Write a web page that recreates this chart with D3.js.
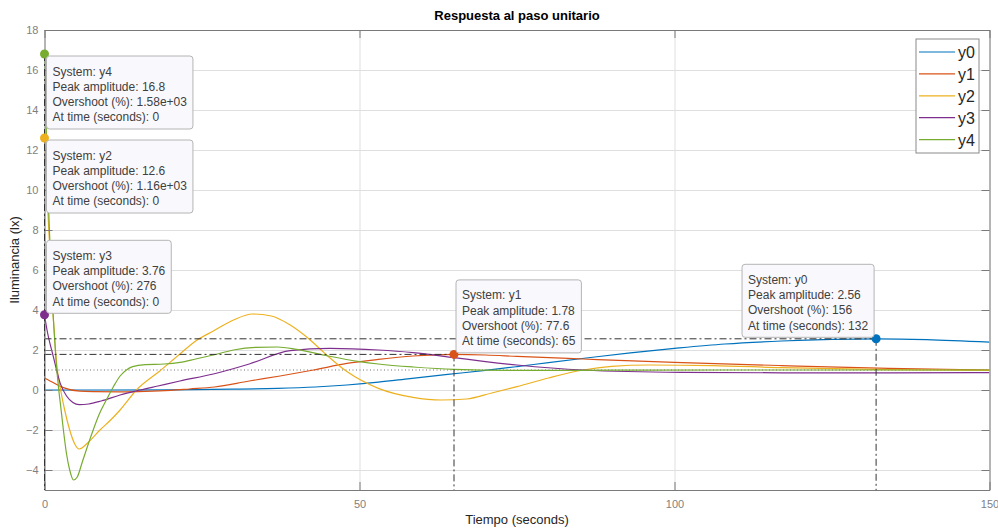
<!DOCTYPE html>
<html>
<head>
<meta charset="utf-8">
<script src="https://cdn.jsdelivr.net/npm/d3@7"></script>
<style>
  body { margin: 0; background: #fff; }
  svg { display: block; font-family: "Liberation Sans", Arial, Helvetica, sans-serif; }
</style>
</head>
<body>
<svg id="canvas" width="998" height="529"></svg>
<script>
// series: time (s) / illuminance (lx)
let seriesNames = ["y0", "y1", "y2", "y3", "y4"];
let colors = ["#0072BD", "#D95319", "#EDB120", "#7E2F8E", "#77AC30"];

let y0Time = [0, 10, 20, 30, 37, 43, 48, 53, 58, 64, 70, 75, 80, 86, 93, 100, 108, 117, 125, 132, 140, 150];
let y0Vals = [0, 0, 0.01, 0.04, 0.08, 0.15, 0.25, 0.39, 0.57, 0.78, 0.98, 1.17, 1.37, 1.6, 1.86, 2.08, 2.3, 2.45, 2.53, 2.56, 2.52, 2.39];

let y1Time = [0, 1.5, 3, 5.6, 8, 12, 16, 20, 23, 27, 32.5, 37.4, 42.7, 48, 53, 58.5, 65, 70, 75, 85.5, 100, 117, 134, 150];
let y1Vals = [0.6, 0.35, 0.12, -0.06, -0.08, -0.09, -0.07, -0.02, 0.05, 0.15, 0.45, 0.7, 1.0, 1.33, 1.53, 1.7, 1.78, 1.75, 1.68, 1.55, 1.38, 1.22, 1.08, 1.0];

let y2Time = [0, 0.3, 0.55, 0.8, 1.1, 1.5, 2, 2.56, 3.2, 4, 4.8, 5.5, 7, 8.8, 10.5, 12, 14.6, 18.3, 21.5, 24, 26.8, 30, 33, 36, 39, 42, 44.5, 48, 53, 58.5, 63, 67, 71, 75, 80, 85.5, 90, 96, 106, 117, 134, 150];
let y2Vals = [12.6, 10.6, 8.85, 7.3, 5.2, 3.1, 1.1, 0, -1.0, -2.0, -2.7, -2.95, -2.6, -2.0, -1.5, -1.0, 0, 0.95, 1.8, 2.45, 2.95, 3.5, 3.8, 3.7, 3.25, 2.55, 1.83, 0.92, 0.08, -0.37, -0.5, -0.45, -0.15, 0.17, 0.6, 1.0, 1.18, 1.25, 1.22, 1.12, 1.02, 0.98];

let y3Time = [0, 0.4, 1.4, 2.5, 3.5, 4.5, 5.5, 7, 9, 12, 15.2, 18, 21.5, 26.8, 32.5, 39, 45.3, 53, 58.5, 65, 70, 75, 85.5, 101, 117, 134, 150];
let y3Vals = [3.76, 3.0, 1.67, 0.33, -0.3, -0.62, -0.73, -0.7, -0.55, -0.25, 0, 0.2, 0.45, 0.8, 1.3, 1.97, 2.08, 2.0, 1.87, 1.62, 1.42, 1.25, 1.0, 0.88, 0.86, 0.86, 0.87];

let y4Time = [0, 0.3, 0.6, 1, 1.4, 1.8, 2.2, 2.6, 3, 3.5, 4, 4.6, 5.2, 6, 7.5, 8.7, 9.9, 11, 12, 13, 14, 16, 19, 21.5, 24, 26.8, 30, 33.5, 37, 40, 45, 50, 53, 58.5, 65, 75, 90, 110, 130, 150];
let y4Vals = [16.8, 12.8, 9.5, 6.2, 3.6, 1.6, 0.2, -0.9, -2.0, -3.2, -4.0, -4.5, -4.35, -3.6, -2.2, -1.2, -0.45, 0.2, 0.7, 1.0, 1.17, 1.27, 1.3, 1.38, 1.55, 1.75, 2.0, 2.13, 2.15, 2.03, 1.7, 1.42, 1.3, 1.15, 1.03, 0.98, 0.99, 1.0, 1.0, 1.0];

// peak data tips
let peakTimes = [132, 65, 0, 0, 0];
let peakAmps = [2.56, 1.78, 12.6, 3.76, 16.8];
let overshoots = ["156", "77.6", "1.16e+03", "276", "1.58e+03"];
let finalValue = 1;

let xTicks = [0, 50, 100, 150];
let yTicks = [-4, -2, 0, 2, 4, 6, 8, 10, 12, 14, 16, 18];

let allTimes = [y0Time, y1Time, y2Time, y3Time, y4Time];
let allVals = [y0Vals, y1Vals, y2Vals, y3Vals, y4Vals];

// which corner of the point each tip box sits at
let tipSide = [
  { dx: -1, dy: -1 },
  { dx: 1, dy: -1 },
  { dx: 1, dy: 1 },
  { dx: 1, dy: -1 },
  { dx: 1, dy: 1 }
];

let canvas = d3.select("#canvas");
let pLeft = 44.5, pRight = 989.5, pTop = 30, pBottom = 490;

let x = d3.scaleLinear().domain([0, 150]).range([pLeft, pRight]);
let y = d3.scaleLinear().domain([-5, 18]).range([pBottom, pTop]);

let axisColor = "#7a7a7a";
let gridColor = "#dfdfdf";

// grid
canvas.append("g")
  .attr("transform", `translate(0,${pBottom})`)
  .call(d3.axisBottom(x).tickValues(xTicks).tickSize(-(pBottom - pTop)).tickFormat(""))
  .call(g => g.select(".domain").remove())
  .call(g => g.selectAll("line").attr("stroke", gridColor));
canvas.append("g")
  .attr("transform", `translate(${pLeft},0)`)
  .call(d3.axisLeft(y).tickValues(yTicks).tickSize(-(pRight - pLeft)).tickFormat(""))
  .call(g => g.select(".domain").remove())
  .call(g => g.selectAll("line").attr("stroke", gridColor));

canvas.append("defs").append("clipPath").attr("id", "plotclip")
  .append("rect").attr("x", pLeft).attr("y", pTop)
  .attr("width", pRight - pLeft).attr("height", pBottom - pTop);

let plot = canvas.append("g").attr("clip-path", "url(#plotclip)");

// steady state
plot.append("line")
  .attr("x1", pLeft).attr("x2", pRight)
  .attr("y1", y(finalValue)).attr("y2", y(finalValue))
  .attr("stroke", "#707070").attr("stroke-width", 1)
  .attr("stroke-dasharray", "1,2.5");

let line = d3.line()
  .x(d => x(d[0]))
  .y(d => y(d[1]))
  .curve(d3.curveMonotoneX);

seriesNames.forEach((name, i) => {
  let pts = allTimes[i].map((t, k) => [t, allVals[i][k]]);
  plot.append("path")
    .attr("d", line(pts))
    .attr("fill", "none")
    .attr("stroke", colors[i])
    .attr("stroke-width", 1.2);
});

// peak reference lines
let dashDot = "7,3,2,3";
seriesNames.forEach((name, i) => {
  let px = x(peakTimes[i]), py = y(peakAmps[i]);
  plot.append("line")
    .attr("x1", pLeft).attr("x2", px)
    .attr("y1", py).attr("y2", py)
    .attr("stroke", "#333").attr("stroke-width", 1)
    .attr("stroke-dasharray", dashDot);
  plot.append("line")
    .attr("x1", px).attr("x2", px)
    .attr("y1", py).attr("y2", pBottom)
    .attr("stroke", "#333").attr("stroke-width", 1)
    .attr("stroke-dasharray", dashDot);
});

// axes box with inward ticks
let tick = 8;
canvas.append("g")
  .attr("transform", `translate(0,${pBottom})`)
  .call(d3.axisBottom(x).tickValues(xTicks).tickSizeInner(-tick).tickSizeOuter(0).tickPadding(10))
  .call(g => g.select(".domain").attr("stroke", axisColor))
  .call(g => g.selectAll("line").attr("stroke", axisColor))
  .call(g => g.selectAll("text").attr("fill", "#7f7f7f").style("font-size", "11px"));
canvas.append("g")
  .attr("transform", `translate(${pLeft},0)`)
  .call(d3.axisLeft(y).tickValues(yTicks).tickSizeInner(-tick).tickSizeOuter(0).tickPadding(6))
  .call(g => g.select(".domain").attr("stroke", axisColor))
  .call(g => g.selectAll("line").attr("stroke", axisColor))
  .call(g => g.selectAll("text").attr("fill", "#7f7f7f").style("font-size", "11px"));
canvas.append("g")
  .attr("transform", `translate(0,${pTop})`)
  .call(d3.axisTop(x).tickValues(xTicks).tickSizeInner(-tick).tickSizeOuter(0).tickFormat(""))
  .call(g => g.select(".domain").attr("stroke", axisColor))
  .call(g => g.selectAll("line").attr("stroke", axisColor));
canvas.append("g")
  .attr("transform", `translate(${pRight},0)`)
  .call(d3.axisRight(y).tickValues(yTicks).tickSizeInner(-tick).tickSizeOuter(0).tickFormat(""))
  .call(g => g.select(".domain").attr("stroke", axisColor))
  .call(g => g.selectAll("line").attr("stroke", axisColor));

// left axis dash-dot overlay from the t=0 peaks
canvas.append("line")
  .attr("x1", pLeft).attr("x2", pLeft)
  .attr("y1", y(d3.max(peakAmps.filter((a, i) => peakTimes[i] === 0)))).attr("y2", pBottom)
  .attr("stroke", "#333").attr("stroke-width", 1)
  .attr("stroke-dasharray", dashDot);

// markers
seriesNames.forEach((name, i) => {
  canvas.append("circle")
    .attr("cx", x(peakTimes[i])).attr("cy", y(peakAmps[i]))
    .attr("r", 4.5)
    .attr("fill", colors[i]);
});

// data tips
let lineH = 15.3;
seriesNames.forEach((name, i) => {
  let px = x(peakTimes[i]), py = y(peakAmps[i]);
  let lines = [
    "System: " + name,
    "Peak amplitude: " + peakAmps[i],
    "Overshoot (%): " + overshoots[i],
    "At time (seconds): " + peakTimes[i]
  ];
  let g = canvas.append("g");
  let rect = g.append("rect");
  let texts = lines.map((s, k) =>
    g.append("text").text(s)
      .attr("x", 6).attr("y", 19.5 + k * lineH)
      .attr("fill", "#404040").style("font-size", "12px"));
  let w = d3.max(texts, t => t.node().getComputedTextLength()) + 12;
  let h = 73;
  rect.attr("width", w).attr("height", h).attr("rx", 3)
    .attr("fill", "#f9f9fd").attr("stroke", "#b4b4b4").attr("stroke-width", 1);
  let bx = tipSide[i].dx > 0 ? px + 2 : px - 2 - w;
  let by = tipSide[i].dy > 0 ? py + 2 : py - 1.5 - h;
  g.attr("transform", `translate(${bx},${by})`);
});

// legend
let legend = canvas.append("g").attr("transform", "translate(916,39)");
legend.append("rect")
  .attr("width", 63).attr("height", 114)
  .attr("fill", "#fff").attr("stroke", "#8a8a8a").attr("stroke-width", 1);
seriesNames.forEach((name, i) => {
  let cy = 13 + i * 21.9;
  legend.append("line")
    .attr("x1", 3).attr("x2", 39).attr("y1", cy).attr("y2", cy)
    .attr("stroke", colors[i]).attr("stroke-width", 1.2);
  legend.append("text")
    .attr("x", 42).attr("y", cy + 6)
    .attr("fill", "#262626").style("font-size", "16px")
    .text(name);
});

// labels
canvas.append("text")
  .attr("x", (pLeft + pRight) / 2).attr("y", 19.5)
  .attr("text-anchor", "middle")
  .style("font-size", "13px").style("font-weight", "bold")
  .attr("fill", "#000")
  .text("Respuesta al paso unitario");
canvas.append("text")
  .attr("x", (pLeft + pRight) / 2).attr("y", 524)
  .attr("text-anchor", "middle")
  .style("font-size", "13px")
  .attr("fill", "#262626")
  .text("Tiempo (seconds)");
canvas.append("text")
  .attr("transform", `translate(18.5,${(pTop + pBottom) / 2}) rotate(-90)`)
  .attr("text-anchor", "middle")
  .style("font-size", "13px")
  .attr("fill", "#262626")
  .text("Iluminancia (lx)");
</script>
</body>
</html>
